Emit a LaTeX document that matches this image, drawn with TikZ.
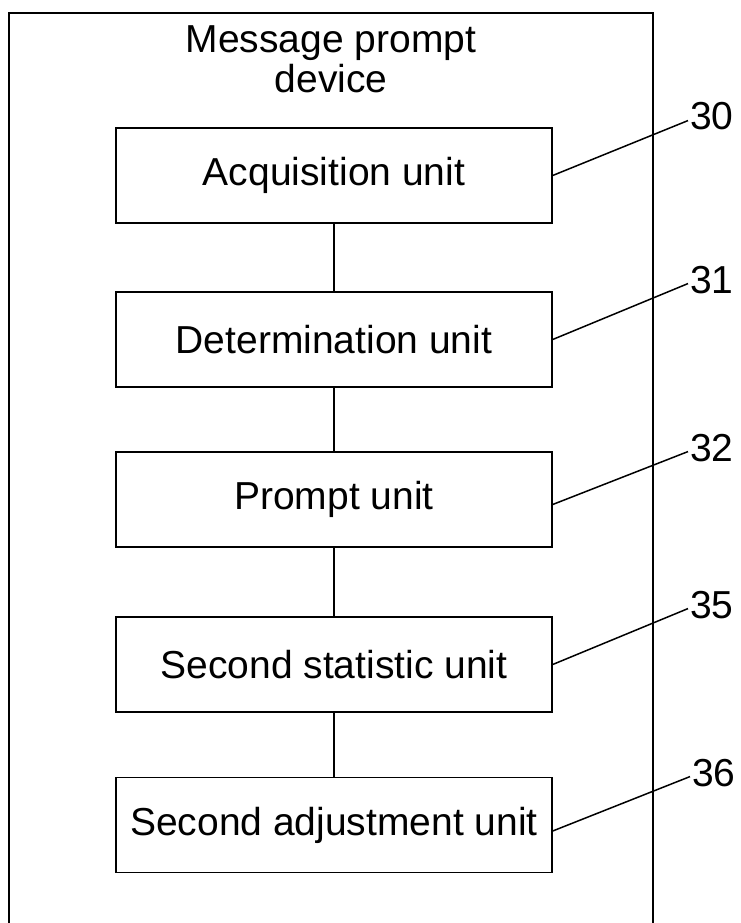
\documentclass[tikz,border=0pt]{standalone}
\usepackage{fontspec}
\setmainfont{Liberation Sans}
\usetikzlibrary{calc, positioning}

\begin{document}
\begin{tikzpicture}[
    x=1pt, y=-1pt,
    font=\fontsize{39}{40}\selectfont,
    unit/.style={draw, line width=1.4pt, minimum width=436pt, minimum height=95pt, inner sep=0pt},
    link/.style={line width=1.2pt},
    leader/.style={line width=1.5pt},
    refnum/.style={anchor=base west, inner sep=2pt}
]

    % Page
    \useasboundingbox (0,0) rectangle (741,923);

    % Outer frame (bottom edge just below the page)
    \draw[line width=1.8pt] (9,13) rectangle (653,926);

    % Title
    \node[align=center, anchor=north, inner sep=0pt] (title) at (331,25) {Message prompt\\device};

    % Units
    \node[unit] (acq) at (334,175.5) {Acquisition unit};
    \node[unit] (det) at (334,339.5) {Determination unit};
    \node[unit] (prm) at (334,499.5) {Prompt unit};
    \node[unit] (sst) at (334,664.5) {Second statistic unit};
    \node[unit] (sad) at (334,825) {Second adjustment unit};

    % Links between units
    \draw[link] (acq) -- (det);
    \draw[link] (det) -- (prm);
    \draw[link] (prm) -- (sst);
    \draw[link] (sst) -- (sad);

    % Reference numerals
    \node[refnum] (n30) at (688,130) {30};
    \node[refnum] (n31) at (688,293) {31};
    \node[refnum] (n32) at (688,461) {32};
    \node[refnum] (n35) at (688,618) {35};
    \node[refnum] (n36) at (690,786) {36};

    % Leaders
    \draw[leader] (acq.east) -- ([yshift=-4pt]n30.west);
    \draw[leader] (det.east) -- ([yshift=-4pt]n31.west);
    \draw[leader] ([yshift=-5pt]prm.east) -- ([yshift=-4pt]n32.west);
    \draw[leader] (sst.east) -- ([yshift=-4pt]n35.west);
    \draw[leader] ([yshift=-6pt]sad.east) -- ([yshift=-4pt]n36.west);

\end{tikzpicture}
\end{document}
